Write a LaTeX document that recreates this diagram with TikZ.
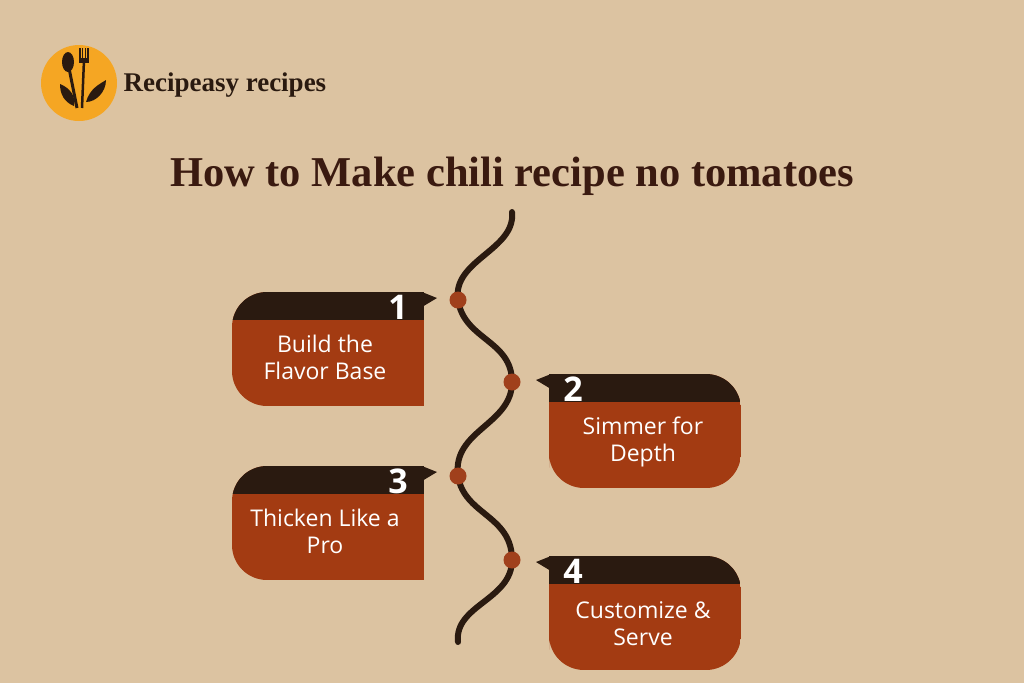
\documentclass[tikz,border=0pt]{standalone}
\usepackage{fontspec}
\setmainfont{Liberation Serif}
\setsansfont{Open Sans}
\usetikzlibrary{positioning}
\definecolor{bgtan}{HTML}{DCC3A1}
\definecolor{darkband}{HTML}{2A1A10}
\definecolor{rust}{HTML}{A33B12}
\definecolor{dotrust}{HTML}{A0401C}
\definecolor{titlebrown}{HTML}{3A1A10}
\definecolor{logoorange}{HTML}{F5A623}
\begin{document}
\begin{tikzpicture}[x=1pt,y=-1pt,font=\sffamily]
    \tikzstyle{steptext}=[text=white,align=center,font=\sffamily\fontsize{23}{27}\selectfont]
    \tikzstyle{stepnum}=[text=white,font=\sffamily\bfseries\fontsize{34}{34}\selectfont]
    \tikzstyle{wavedot}=[circle,fill=dotrust,inner sep=0pt,minimum size=16pt]
    \fill[bgtan] (0,0) rectangle (1024,683);
    \useasboundingbox (0,0) rectangle (1024,683);
    % logo
    \fill[logoorange] (79,83) circle (38);
    \node[font=\bfseries\fontsize{27}{27}\selectfont,text=darkband,anchor=west] (logo) at (120,85) {Recipeasy recipes};
    \fill[darkband] (68,62) ellipse (6 and 10);
    \draw[darkband,line width=3pt] (69,68) -- (77,108);
    \draw[darkband,line width=2.5pt] (84,60) -- (82,108);
    \fill[darkband] (79,58) rectangle (89,63);
    \foreach \k in {-4,-1.3,1.3,4} \draw[darkband,line width=1.2pt] (84+\k,48) -- (84+\k,62);
    \fill[darkband] (86,102) .. controls (90,88) and (100,84) .. (106,80) .. controls (106,92) and (96,102) .. (86,102);
    \fill[darkband] (74,106) .. controls (64,102) and (60,94) .. (60,84) .. controls (70,88) and (76,96) .. (74,106);
    % title
    \node[font=\bfseries\fontsize{42.5}{42.5}\selectfont,text=titlebrown] (title) at (512,176) {How to Make chili recipe no tomatoes};
    % wave
    \coordinate (w0) at (512,212);
    \node[wavedot] (d1) at (458,300) {};
    \node[wavedot] (d2) at (512,382) {};
    \node[wavedot] (d3) at (458,476) {};
    \node[wavedot] (d4) at (512,560) {};
    \coordinate (w5) at (458,642);
    \draw[darkband,line width=6pt,line cap=round] (w0) .. controls (516,250) and (452,260) .. (d1.center)
      .. controls (464,340) and (512,340) .. (d2.center)
      .. controls (512,425) and (452,430) .. (d3.center)
      .. controls (464,515) and (512,515) .. (d4.center)
      .. controls (512,600) and (454,605) .. (w5);
    \foreach \n in {d1,d2,d3,d4} \fill[dotrust] (\n) circle (8.5);
    % left cards
    \foreach \y/\num/\txt in {292/1/{Build the\\Flavor Base},466/3/{Thicken Like a\\Pro}}{
      \begin{scope}
        \clip (424,\y) -- (424,\y+114) [rounded corners=35pt] -- (232,\y+114) -- (232,\y) -- (424,\y) -- cycle;
        \fill[rust] (232,\y) rectangle (424,\y+114);
        \fill[darkband] (232,\y) rectangle (424,\y+28);
      \end{scope}
      \fill[darkband] (422,\y) -- (437,\y+6) -- (422,\y+15) -- cycle;
      \node[stepnum] at (398,\y+15) {\num};
      \node[steptext] at (325,\y+65) {\txt};
    }
    % right cards
    \foreach \y/\num/\txt in {374/2/{Simmer for\\Depth},556/4/{Customize \&\\Serve}}{
      \begin{scope}
        \clip (549,\y+114) -- (549,\y) [rounded corners=35pt] -- (741,\y) -- (741,\y+114) -- (549,\y+114) -- cycle;
        \fill[rust] (549,\y) rectangle (741,\y+114);
        \fill[darkband] (549,\y) rectangle (741,\y+28);
      \end{scope}
      \fill[darkband] (551,\y) -- (536,\y+6) -- (551,\y+15) -- cycle;
      \node[stepnum] at (573,\y+15) {\num};
      \node[steptext] at (643,\y+68) {\txt};
    }
\end{tikzpicture}
\end{document}
